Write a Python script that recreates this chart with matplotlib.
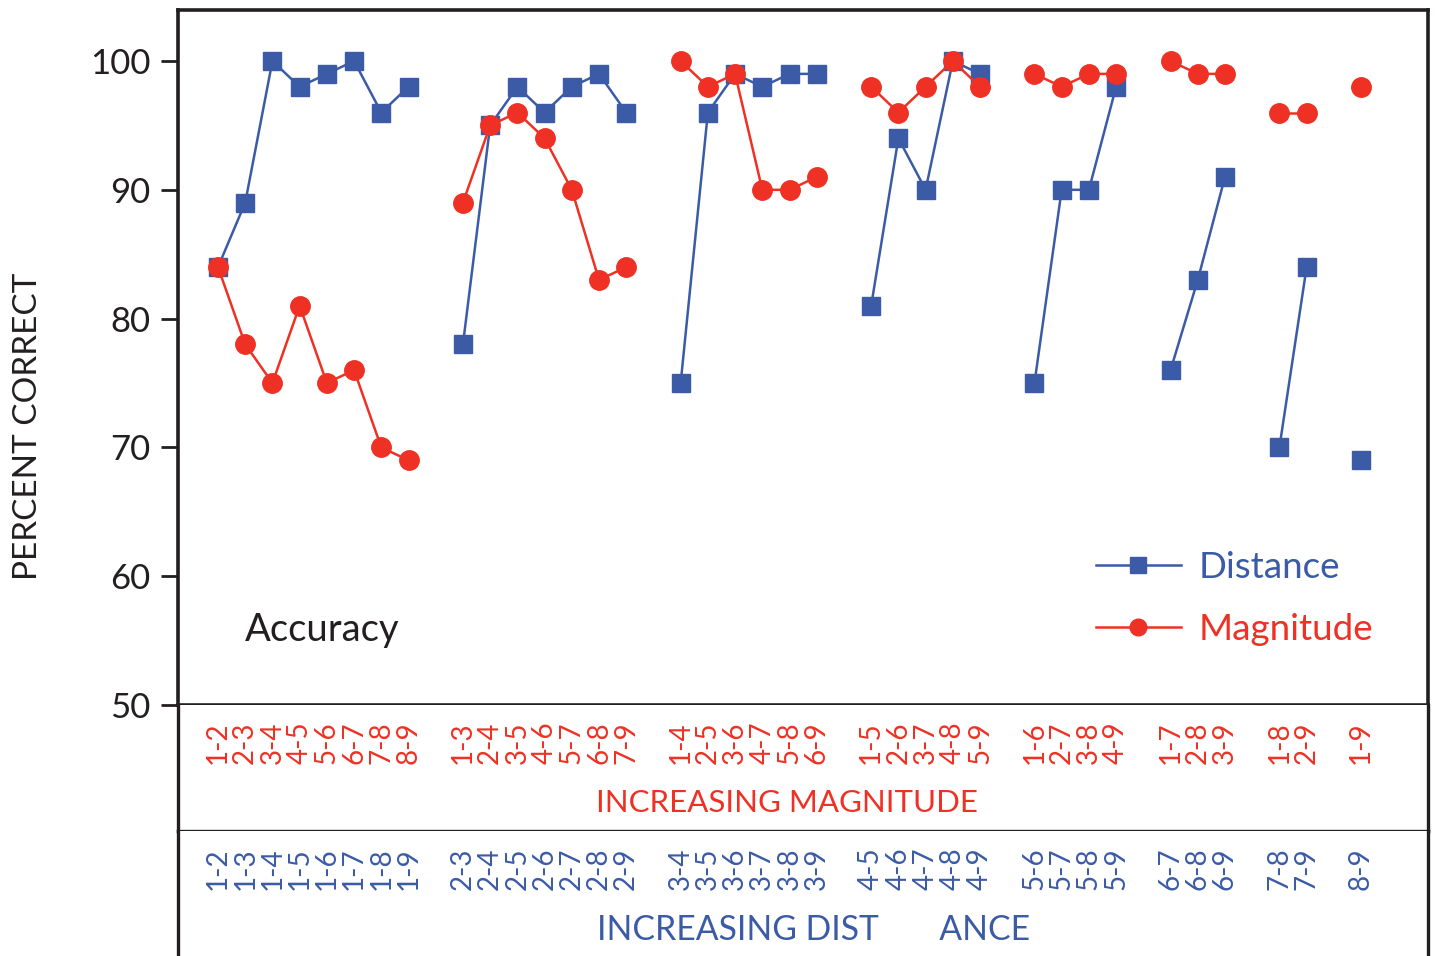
import matplotlib
matplotlib.use("Agg")
import matplotlib.pyplot as plt
import matplotlib.transforms as mtransforms
import numpy as np

plt.rcParams['font.family'] = ['Lato', 'DejaVu Sans']

# ---- data ----
group_sizes = [8, 7, 6, 5, 4, 3, 2, 1]
magnitude_labels = ["1-2", "2-3", "3-4", "4-5", "5-6", "6-7", "7-8", "8-9",
                    "1-3", "2-4", "3-5", "4-6", "5-7", "6-8", "7-9",
                    "1-4", "2-5", "3-6", "4-7", "5-8", "6-9",
                    "1-5", "2-6", "3-7", "4-8", "5-9",
                    "1-6", "2-7", "3-8", "4-9",
                    "1-7", "2-8", "3-9",
                    "1-8", "2-9",
                    "1-9"]
distance_labels = ["1-2", "1-3", "1-4", "1-5", "1-6", "1-7", "1-8", "1-9",
                   "2-3", "2-4", "2-5", "2-6", "2-7", "2-8", "2-9",
                   "3-4", "3-5", "3-6", "3-7", "3-8", "3-9",
                   "4-5", "4-6", "4-7", "4-8", "4-9",
                   "5-6", "5-7", "5-8", "5-9",
                   "6-7", "6-8", "6-9",
                   "7-8", "7-9",
                   "8-9"]
distance = [84, 89, 100, 98, 99, 100, 96, 98,
            78, 95, 98, 96, 98, 99, 96,
            75, 96, 99, 98, 99, 99,
            81, 94, 90, 100, 99,
            75, 90, 90, 98,
            76, 83, 91,
            70, 84,
            69]
magnitude = [84, 78, 75, 81, 75, 76, 70, 69,
             89, 95, 96, 94, 90, 83, 84,
             100, 98, 99, 90, 90, 91,
             98, 96, 98, 100, 98,
             99, 98, 99, 99,
             100, 99, 99,
             96, 96,
             98]
yticks = [50, 60, 70, 80, 90, 100]

BLUE = '#3b5ba7'
RED = '#ee3124'
BLACK = '#231f20'

# slot positions: one empty slot between groups
positions = []
slot = 0
for g in group_sizes:
    positions.extend(range(slot, slot + g))
    slot += g + 1

W, H = 1437, 956
fig = plt.figure(figsize=(W / 100, H / 100), dpi=100)

def fx(px):
    return px / W

def fy(py):
    return 1 - py / H

L, R = 178, 1428
XLIM = (-1.47, 44.46)
ax = fig.add_axes([fx(L), fy(705), fx(R) - fx(L), fy(10) - fy(705)])
ax_m = fig.add_axes([fx(L), fy(831), fx(R) - fx(L), fy(705) - fy(831)])
ax_d = fig.add_axes([fx(L), fy(980), fx(R) - fx(L), fy(831) - fy(980)])

pos = np.array(positions)
dist = np.array(distance)
mag = np.array(magnitude)
start = 0
for gi, g in enumerate(group_sizes):
    sl = slice(start, start + g)
    ax.plot(pos[sl], dist[sl], color=BLUE, lw=1.8, marker='s', ms=13,
            mec=BLUE, mfc=BLUE, zorder=2, label='Distance' if gi == 0 else None,
            clip_on=False)
    ax.plot(pos[sl], mag[sl], color=RED, lw=1.8, marker='o', ms=14,
            mec=RED, mfc=RED, zorder=3, label='Magnitude' if gi == 0 else None,
            clip_on=False)
    start += g

ax.set_xlim(*XLIM)
ax.set_ylim(50, 103.96)
ax.set_yticks(yticks)
ax.set_yticklabels([str(v) for v in yticks], fontsize=25, color=BLACK)
ax.tick_params(axis='y', direction='out', length=12, width=2, color=BLACK, pad=8)
ax.tick_params(axis='x', bottom=False, labelbottom=False)
for s in ax.spines.values():
    s.set_linewidth(2.6)
    s.set_color(BLACK)

for a, labels, col in ((ax_m, magnitude_labels, RED), (ax_d, distance_labels, BLUE)):
    a.set_xlim(*XLIM)
    a.set_yticks([])
    for s in a.spines.values():
        s.set_linewidth(2.4)
        s.set_color(BLACK)
    a.spines['top'].set_visible(False)
    a.xaxis.set_ticks_position('top')
    a.set_xticks(positions)
    a.set_xticklabels(labels, rotation=90, fontsize=20, color=col)
    a.tick_params(axis='x', length=0, pad=0, labeltop=True, labelbottom=False, top=False)
    for lab in a.get_xticklabels():
        lab.set_va('top')
        lab.set_transform(lab.get_transform() +
                          mtransforms.ScaledTranslation(0, -0.165, fig.dpi_scale_trans))

ax_m.spines['bottom'].set_visible(True)
ax_d.spines['bottom'].set_visible(False)

fig.text(fx(787), fy(803), 'INCREASING MAGNITUDE', color=RED, fontsize=22.5,
         ha='center', va='center')
fig.text(fx(814), fy(930), 'INCREASING DIST       ANCE', color=BLUE, fontsize=24.3,
         ha='center', va='center')

fig.text(fx(28), fy(426), 'PERCENT CORRECT', color=BLACK, fontsize=24,
         rotation=90, ha='center', va='center')

ax.text((245 - L) / (R - L), (705 - 630) / 695, 'Accuracy', transform=ax.transAxes,
        fontsize=27.5, color=BLACK, ha='left', va='center')

leg = ax.legend(loc='upper left', bbox_to_anchor=((1096 - L) / (R - L), (705 - 551) / 695),
                frameon=False, fontsize=26.5, handlelength=2.3, handletextpad=0.5,
                borderpad=0, borderaxespad=0, labelspacing=0.78, labelcolor='linecolor',
                numpoints=1)
for h in leg.legend_handles:
    h.set_markersize(12)

fig.savefig('out.png', dpi=100)
